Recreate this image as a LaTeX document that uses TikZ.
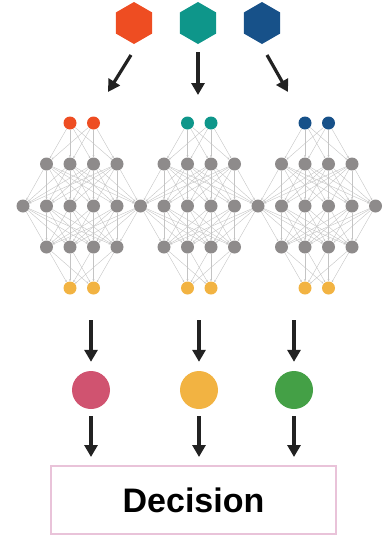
\documentclass[tikz,border=0pt]{standalone}
\usepackage{fontspec}
\setmainfont{Liberation Sans}
\usetikzlibrary{arrows.meta,shapes.geometric,calc}

\definecolor{inorange}{HTML}{EE4D22}
\definecolor{inteal}{HTML}{0E968A}
\definecolor{inblue}{HTML}{175189}
\definecolor{outpink}{HTML}{D05370}
\definecolor{outyellow}{HTML}{F2B342}
\definecolor{outgreen}{HTML}{44A046}
\definecolor{unitgray}{HTML}{8E8B8B}
\definecolor{wiregray}{HTML}{C4C4C4}
\definecolor{arrowdark}{HTML}{222222}
\definecolor{framepink}{HTML}{E9C3D9}

\tikzset{
  hexin/.style={regular polygon, regular polygon sides=6, shape border rotate=30,
    minimum size=42pt, inner sep=0pt, fill=#1},
  unit/.style={circle, minimum size=13pt, inner sep=0pt, fill=#1},
  result/.style={circle, minimum size=38pt, inner sep=0pt, fill=#1},
  wire/.style={draw=wiregray, line width=0.4pt, -{Stealth[length=2.2pt,width=2pt]}},
  bigarrow/.style={draw=arrowdark, line width=3.2pt, -{Triangle[width=13pt,length=12pt]}},
  decisionbox/.style={draw=framepink, line width=2pt, minimum width=285pt,
    minimum height=68pt, inner sep=0pt, font=\bfseries\fontsize{34}{40}\selectfont}
}

\begin{document}
\begin{tikzpicture}[x=1pt,y=-1pt]
\useasboundingbox (0,0) rectangle (388,536);

% input hexagons
\node[hexin=inorange] (hx1) at (134,23) {};
\node[hexin=inteal]   (hx2) at (198,23) {};
\node[hexin=inblue]   (hx3) at (262,23) {};

% targets of the input arrows above each network
\coordinate (t1) at (108,92);
\coordinate (t2) at (198,95);
\coordinate (t3) at (288,92);

\draw[bigarrow] (hx1) ++(-3,32) -- (t1);
\draw[bigarrow] (hx2) ++(0,29) -- (t2);
\draw[bigarrow] (hx3) ++(5,32) -- (t3);

% shared middle layer of all three networks
\foreach \i in {0,...,15}
  \node[unit=unitgray] (md\i) at ({23+23.5*\i},206) {};

% per-network layers
\foreach \k/\col in {0/inorange,1/inteal,2/inblue}{
  \pgfmathtruncatemacro{\b}{5*\k}
  \foreach \j in {1,...,4}{
    \pgfmathtruncatemacro{\i}{\b+\j}
    \node[unit=unitgray] (ua\i) at ({23+23.5*\i},164) {};
    \node[unit=unitgray] (lo\i) at ({23+23.5*\i},247) {};
  }
  \foreach \j in {2,3}{
    \pgfmathtruncatemacro{\i}{\b+\j}
    \node[unit=\col] (tp\i) at ({23+23.5*\i},123) {};
    \node[unit=outyellow] (bt\i) at ({23+23.5*\i},288) {};
  }
}

% fully connected wiring inside each network
\foreach \k in {0,1,2}{
  \pgfmathtruncatemacro{\b}{5*\k}
  \foreach \j in {2,3}{
    \foreach \m in {1,...,4}{
      \pgfmathtruncatemacro{\s}{\b+\j}
      \pgfmathtruncatemacro{\e}{\b+\m}
      \draw[wire] (tp\s) -- (ua\e);
      \draw[wire] (lo\e) -- (bt\s);
    }
  }
  \foreach \j in {1,...,4}{
    \foreach \m in {0,...,5}{
      \pgfmathtruncatemacro{\s}{\b+\j}
      \pgfmathtruncatemacro{\e}{\b+\m}
      \draw[wire] (ua\s) -- (md\e);
      \draw[wire] (md\e) -- (lo\s);
    }
  }
}

% network outputs
\coordinate (n1) at (91,320);
\coordinate (n2) at (199,320);
\coordinate (n3) at (294,320);
\node[result=outpink]   (c1) at (91,390) {};
\node[result=outyellow] (c2) at (199,390) {};
\node[result=outgreen]  (c3) at (294,390) {};

\draw[bigarrow, shorten >=9pt] (n1) -- (c1);
\draw[bigarrow, shorten >=9pt] (n2) -- (c2);
\draw[bigarrow, shorten >=9pt] (n3) -- (c3);

% decision box
\node[decisionbox] (dec) at (193.5,500) {Decision};

\draw[bigarrow, shorten <=7pt, shorten >=8pt] (c1) -- (c1 |- dec.north);
\draw[bigarrow, shorten <=7pt, shorten >=8pt] (c2) -- (c2 |- dec.north);
\draw[bigarrow, shorten <=7pt, shorten >=8pt] (c3) -- (c3 |- dec.north);
\end{tikzpicture}
\end{document}
